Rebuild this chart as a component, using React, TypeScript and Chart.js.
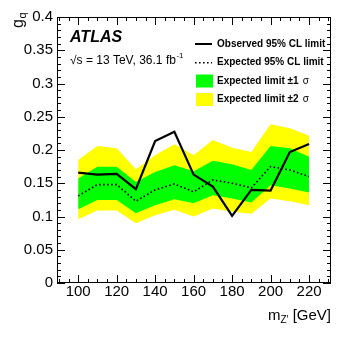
import React, { useEffect, useRef } from "react";
import { Chart, registerables } from "chart.js";

Chart.register(...registerables);

// ---- data ----
const massPoints = [100, 110, 120, 130, 140, 150, 160, 170, 180, 190, 200, 210, 220];
const observedLimit = [0.166, 0.163, 0.164, 0.141, 0.2135, 0.2275, 0.163, 0.145, 0.101, 0.14, 0.139, 0.197, 0.209];
const expectedLimit = [0.131, 0.148, 0.148, 0.123, 0.14, 0.149, 0.137, 0.155, 0.15, 0.143, 0.175, 0.17, 0.16];
const oneSigmaUp = [0.157, 0.175, 0.175, 0.152, 0.167, 0.177, 0.168, 0.184, 0.1785, 0.17, 0.206, 0.2025, 0.19];
const oneSigmaDown = [0.111, 0.125, 0.125, 0.105, 0.117, 0.126, 0.12, 0.132, 0.127, 0.121, 0.147, 0.142, 0.136];
const twoSigmaUp = [0.185, 0.206, 0.2025, 0.171, 0.192, 0.2086, 0.192, 0.215, 0.2035, 0.197, 0.2386, 0.2326, 0.2215];
const twoSigmaDown = [0.096, 0.109, 0.109, 0.09, 0.102, 0.11, 0.1, 0.112, 0.107, 0.104, 0.127, 0.123, 0.117];

const xTickValues = [100, 120, 140, 160, 180, 200, 220];
const xTickLabels = ["100", "120", "140", "160", "180", "200", "220"];
const yTickValues = [0, 0.05, 0.1, 0.15, 0.2, 0.25, 0.3, 0.35, 0.4];
const yTickLabels = ["0", "0.05", "0.1", "0.15", "0.2", "0.25", "0.3", "0.35", "0.4"];
const xRange = [89, 231.4];
const yRange = [0, 0.4];
const xMinorStep = 5;
const yMinorStep = 0.01;

const legendLabels = ["Observed 95% CL limit", "Expected 95% CL limit", "Expected limit \u00b11", "Expected limit \u00b12"];
const experimentLabel = "ATLAS";
const energyLabel = "\u221as = 13 TeV, 36.1 fb";
const energySup = "-1";

const FONT = "'Liberation Sans', Arial, Helvetica, sans-serif";
const GREEN = "#00ff00";
const YELLOW = "#ffff00";

const pts = (vals: number[]) => vals.map((v, i) => ({ x: massPoints[i], y: v }));

const decorPlugin = {
  id: "atlasDecor",
  afterDatasetsDraw(chart: any) {
    const { ctx, chartArea: a, scales } = chart;
    const xs = scales.x;
    const ys = scales.y;
    ctx.save();
    ctx.strokeStyle = "#000";
    ctx.lineWidth = 1;
    // frame
    ctx.strokeRect(Math.round(a.left) + 0.5, Math.round(a.top) + 0.5, Math.round(a.right - a.left) - 1, Math.round(a.bottom - a.top) - 1);
    // x ticks (inside)
    ctx.beginPath();
    for (let v = Math.ceil(xRange[0] / xMinorStep) * xMinorStep; v <= xRange[1]; v += xMinorStep) {
      const px = Math.round(xs.getPixelForValue(v)) + 0.5;
      const len = xTickValues.includes(v) ? 8 : 4;
      ctx.moveTo(px, a.bottom);
      ctx.lineTo(px, a.bottom - len);
      ctx.moveTo(px, a.top);
      ctx.lineTo(px, a.top + len);
    }
    // y ticks (inside)
    const nY = Math.round((yRange[1] - yRange[0]) / yMinorStep);
    for (let i = 0; i <= nY; i++) {
      const v = yRange[0] + i * yMinorStep;
      const py = Math.round(ys.getPixelForValue(v)) + 0.5;
      const len = i % 5 === 0 ? 8 : 4;
      ctx.moveTo(a.left, py);
      ctx.lineTo(a.left + len, py);
      ctx.moveTo(a.right, py);
      ctx.lineTo(a.right - len, py);
    }
    ctx.stroke();
    ctx.restore();
  },
  afterDraw(chart: any) {
    const { ctx, chartArea: a } = chart;
    ctx.save();
    ctx.fillStyle = "#000";
    ctx.textAlign = "left";
    ctx.textBaseline = "alphabetic";

    // ATLAS label
    ctx.font = `italic bold 16px ${FONT}`;
    ctx.fillText(experimentLabel, 70, 41.5);
    ctx.font = `12px ${FONT}`;
    ctx.fillText(energyLabel, 70, 64);
    const ew = ctx.measureText(energyLabel).width;
    ctx.font = `8px ${FONT}`;
    ctx.fillText(energySup, 70 + ew + 0.5, 58);

    // Legend
    const lx0 = 195, lx1 = 212, tx = 217;
    const rows = [44, 62.7, 81, 99.5];
    ctx.strokeStyle = "#000";
    ctx.lineWidth = 2;
    ctx.beginPath();
    ctx.moveTo(lx0, rows[0]);
    ctx.lineTo(lx1, rows[0]);
    ctx.stroke();
    ctx.lineWidth = 1.6;
    ctx.setLineDash([1.6, 2.4]);
    ctx.beginPath();
    ctx.moveTo(lx0, rows[1]);
    ctx.lineTo(lx1, rows[1]);
    ctx.stroke();
    ctx.setLineDash([]);
    ctx.fillStyle = GREEN;
    ctx.fillRect(196, rows[2] - 6.5, 17, 13);
    ctx.fillStyle = YELLOW;
    ctx.fillRect(196, rows[3] - 6.5, 17, 13);
    ctx.fillStyle = "#000";
    ctx.textBaseline = "middle";
    ctx.font = `bold 10px ${FONT}`;
    ctx.fillText(legendLabels[0], tx, rows[0]);
    ctx.fillText(legendLabels[1], tx, rows[1]);
    for (const r of [2, 3]) {
      ctx.font = `bold 10px ${FONT}`;
      ctx.fillText(legendLabels[r], tx, rows[r]);
      const w = ctx.measureText(legendLabels[r]).width;
      ctx.font = `10px ${FONT}`;
      ctx.fillText("\u03c3", tx + w + 4, rows[r]);
    }

    // axis titles
    ctx.textBaseline = "alphabetic";
    // y title g_q rotated
    ctx.save();
    ctx.translate(22.5, 28);
    ctx.rotate(-Math.PI / 2);
    ctx.font = `16px ${FONT}`;
    ctx.fillText("g", 0, 0);
    const gw = ctx.measureText("g").width;
    ctx.font = `11px ${FONT}`;
    ctx.fillText("q", gw + 0.5, 3);
    ctx.restore();

    // x title m_Z' [GeV], right aligned to axis end
    const main1 = "m";
    const sub = "Z\u2032";
    const main2 = " [GeV]";
    ctx.font = `15px ${FONT}`;
    const w1 = ctx.measureText(main1).width;
    const w3 = ctx.measureText(main2).width;
    ctx.font = `10px ${FONT}`;
    const w2 = ctx.measureText(sub).width;
    const total = w1 + w2 + w3;
    let x = a.right - total;
    const base = 319.5;
    ctx.font = `15px ${FONT}`;
    ctx.fillText(main1, x, base);
    x += w1;
    ctx.font = `10px ${FONT}`;
    ctx.fillText(sub, x, base + 3);
    x += w2;
    ctx.font = `15px ${FONT}`;
    ctx.fillText(main2, x, base);
    ctx.restore();
  },
};

export default function App() {
  const ref = useRef<HTMLCanvasElement | null>(null);
  useEffect(() => {
    if (!ref.current) return;
    const chart = new Chart(ref.current, {
      type: "line",
      data: {
        datasets: [
          {
            label: "Observed",
            data: pts(observedLimit),
            borderColor: "#000",
            borderWidth: 2.2,
            pointRadius: 0,
            fill: false,
            tension: 0,
          },
          {
            label: "Expected",
            data: pts(expectedLimit),
            borderColor: "#000",
            borderWidth: 1.6,
            borderDash: [1.6, 2.4],
            pointRadius: 0,
            fill: false,
            tension: 0,
          },
          {
            label: "1sigma up",
            data: pts(oneSigmaUp),
            borderColor: "rgba(0,0,0,0)",
            borderWidth: 0,
            backgroundColor: GREEN,
            pointRadius: 0,
            fill: "+1",
            tension: 0,
          },
          {
            label: "1sigma down",
            data: pts(oneSigmaDown),
            borderColor: "rgba(0,0,0,0)",
            borderWidth: 0,
            pointRadius: 0,
            fill: false,
            tension: 0,
          },
          {
            label: "2sigma up",
            data: pts(twoSigmaUp),
            borderColor: "rgba(0,0,0,0)",
            borderWidth: 0,
            backgroundColor: YELLOW,
            pointRadius: 0,
            fill: "+1",
            tension: 0,
          },
          {
            label: "2sigma down",
            data: pts(twoSigmaDown),
            borderColor: "rgba(0,0,0,0)",
            borderWidth: 0,
            pointRadius: 0,
            fill: false,
            tension: 0,
          },
        ],
      },
      options: {
        animation: false,
        responsive: false,
        maintainAspectRatio: false,
        events: [],
        layout: { padding: { top: 17, right: 18, left: 0, bottom: 0 } },
        plugins: {
          legend: { display: false },
          tooltip: { enabled: false },
          filler: { propagate: false },
        },
        scales: {
          x: {
            type: "linear",
            min: xRange[0],
            max: xRange[1],
            grid: { display: false, drawTicks: false },
            border: { display: false },
            ticks: {
              color: "#000",
              font: { family: FONT, size: 15 },
              padding: 0,
              maxRotation: 0,
              autoSkip: false,
              callback: (v: any, i: number) => xTickLabels[i],
            },
            afterBuildTicks: (s: any) => {
              s.ticks = xTickValues.map((v) => ({ value: v }));
            },
            afterFit: (s: any) => {
              s.height = 55;
            },
          },
          y: {
            type: "linear",
            min: yRange[0],
            max: yRange[1],
            grid: { display: false, drawTicks: false },
            border: { display: false },
            ticks: {
              color: "#000",
              font: { family: FONT, size: 15 },
              padding: 4,
              autoSkip: false,
              callback: (v: any, i: number) => yTickLabels[i],
            },
            afterBuildTicks: (s: any) => {
              s.ticks = yTickValues.map((v) => ({ value: v }));
            },
            afterFit: (s: any) => {
              s.width = 57;
            },
          },
        },
      } as any,
      plugins: [decorPlugin],
    });
    return () => chart.destroy();
  }, []);
  return (
    <div style={{ position: "absolute", left: 0, top: 0, width: 349, height: 338, background: "#fff" }}>
      <canvas ref={ref} width={349} height={338} style={{ width: 349, height: 338, display: "block" }} />
    </div>
  );
}
